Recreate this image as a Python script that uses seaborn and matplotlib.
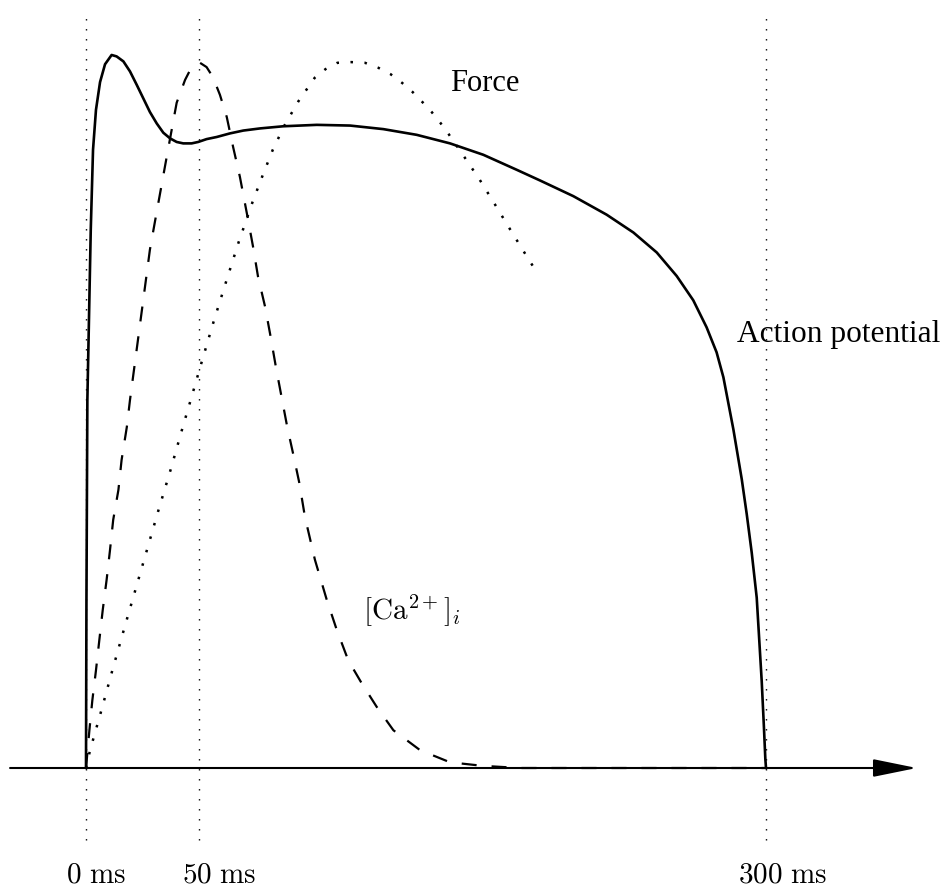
import matplotlib
matplotlib.use("Agg")
import matplotlib.pyplot as plt
import seaborn as sns
import pandas as pd

# ---------------- data (time in ms, amplitude in % of peak) ----------------
ap_t = [0, 0.2, 0.6, 2.1, 3.1, 4.4, 6.2, 8.4, 11.3, 13.5, 16.5, 19.4, 22.4,
        25.3, 28.2, 31.2, 34.1, 37.1, 40.0, 42.9, 46.6, 49.5, 53.2, 57.7,
        63.5, 69.4, 76.8, 87.0, 101.8, 116.5, 131.2, 145.9, 160.6, 175.3,
        190.0, 200.3, 215.0, 229.7, 241.5, 251.8, 260.6, 267.9, 273.8,
        278.2, 281.2, 285.6, 289.3, 291.5, 293.7, 295.9, 298.1, 299.1,
        299.7, 300.0]
ap_v = [0, 23.6, 51.6, 75.5, 86.7, 92.3, 96.2, 98.7, 100.0, 99.8, 99.1,
        97.7, 95.8, 93.9, 92.0, 90.4, 89.1, 88.3, 87.8, 87.6, 87.6, 87.8,
        88.2, 88.5, 89.0, 89.4, 89.7, 90.0, 90.2, 90.1, 89.6, 88.8, 87.6,
        86.0, 83.9, 82.4, 80.2, 77.6, 75.1, 72.3, 69.0, 65.6, 61.8, 58.3,
        54.8, 47.5, 40.5, 35.6, 30.2, 23.9, 12.2, 5.6, 1.3, 0]

ca_t = [0, 1.5, 2.8, 4.4, 5.9, 7.4, 9.1, 10.6, 12.0, 14.3, 15.7, 18.0, 19.4,
        28.2, 30.4, 35.6, 40.0, 43.7, 46.6, 50.3, 53.2, 56.0, 59.1, 62.1,
        64.9, 67.9, 71.5, 73.7, 75.9, 79.0, 81.5, 83.8, 86.3, 88.8, 91.5,
        94.1, 96.6, 101.0, 106.2, 110.6, 115.7, 121.6, 128.2, 135.6, 147.4,
        160.6, 175.1, 191.5, 300.0]
ca_v = [0, 5.3, 9.5, 13.7, 18.0, 22.2, 26.4, 30.6, 34.8, 39.0, 43.2, 47.8,
        51.6, 72.7, 76.6, 85.7, 93.3, 96.5, 98.3, 98.9, 98.3, 96.9, 94.4,
        91.3, 87.1, 82.9, 76.9, 73.1, 68.9, 64.7, 60.4, 56.2, 52.0, 47.8,
        43.9, 40.0, 35.2, 29.2, 23.6, 19.4, 15.1, 11.9, 8.6, 5.3, 2.5, 0.8,
        0.3, 0, 0]

force_t = [0, 1.8, 6.8, 11.8, 16.8, 21.9, 27.0, 32.1, 37.4, 42.4, 45.9, 51.0,
           56.3, 61.8, 67.4, 73.5, 77.8, 82.4, 87.7, 93.7, 100.9, 105.6,
           110.9, 117.0, 123.1, 129.0, 134.4, 139.4, 144.1, 148.4, 152.5,
           156.3, 160.0, 166.9, 173.7, 180.3, 186.8, 193.2, 199.7]
force_v = [0, 2.5, 8.1, 13.9, 19.5, 25.1, 30.7, 36.3, 41.9, 47.5, 51.3, 56.9,
           62.6, 68.2, 73.8, 79.4, 83.0, 86.7, 90.2, 93.5, 96.8, 98.0, 98.9,
           99.0, 98.9, 98.2, 97.3, 96.1, 94.8, 93.4, 92.0, 90.5, 88.9, 85.7,
           82.5, 79.1, 75.7, 72.4, 69.1]

tick_values = [0, 50, 300]
tick_labels = [r"$0\ \mathrm{ms}$", r"$50\ \mathrm{ms}$", r"$300\ \mathrm{ms}$"]
curve_labels = ["Force", "Action potential", r"$[\mathrm{Ca}^{2+}]_i$"]

# ---------------- figure ----------------
sns.set_style("white")
plt.rcParams["font.family"] = ["Liberation Serif", "DejaVu Serif"]
plt.rcParams["mathtext.fontset"] = "cm"
plt.rcParams["text.color"] = "black"

fig = plt.figure(figsize=(9.48, 8.91), dpi=100)
ax = fig.add_axes([0, 0, 1, 1])
ax.set_xlim(-37.94, 380.29)
ax.set_ylim(-17.25, 107.71)
ax.axis("off")

ap = pd.DataFrame({"t": ap_t, "v": ap_v})
ca = pd.DataFrame({"t": ca_t, "v": ca_v})
fo = pd.DataFrame({"t": force_t, "v": force_v})

sns.lineplot(data=ap, x="t", y="v", ax=ax, color="black", lw=1.9,
             solid_joinstyle="round", sort=False)
sns.lineplot(data=ca, x="t", y="v", ax=ax, color="black", lw=1.6,
             linestyle=(0, (6.75, 6.75)), sort=False)
sns.lineplot(data=fo, x="t", y="v", ax=ax, color="black", lw=1.8,
             linestyle=(0, (1, 4.6)), sort=False)

# vertical dotted guides
for tv in tick_values:
    ax.axvline(tv, ymin=0.0572, ymax=0.9865, color="black", lw=1.0,
               linestyle=(0, (1, 6.2)), zorder=0)

# time axis with arrow
ax.annotate("", xy=(366.5, 0), xytext=(-33.5, 0),
            arrowprops=dict(arrowstyle="-|>,head_length=2.7,head_width=0.55",
                            lw=1.5, color="black", mutation_scale=10,
                            shrinkA=0, shrinkB=0))

# tick labels
label_x = [4.6, 58.9, 307.3]
for lx, lab in zip(label_x, tick_labels):
    ax.text(lx, -16.0, lab, ha="center", va="baseline", fontsize=21,
            color="black")

# curve labels
ax.text(160.7, 95.0, curve_labels[0], ha="left", va="baseline", fontsize=22,
        color="black")
ax.text(287.2, 59.7, curve_labels[1], ha="left", va="baseline", fontsize=22.6,
        color="black")
ax.text(122.2, 20.9, curve_labels[2], ha="left", va="baseline", fontsize=21,
        color="black")

fig.savefig("out.png", dpi=100)
